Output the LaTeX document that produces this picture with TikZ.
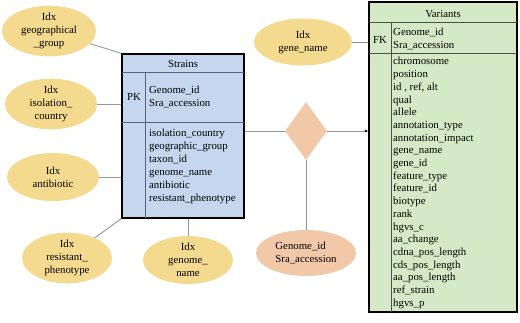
\documentclass[tikz,border=0pt]{standalone}
\usepackage{fontspec}
\setmainfont{Liberation Serif}
\usetikzlibrary{shapes.geometric,arrows.meta}
\definecolor{idxfill}{RGB}{243,218,142}
\definecolor{peach}{RGB}{242,201,168}
\definecolor{strblue}{RGB}{197,214,238}
\definecolor{vargreen}{RGB}{214,233,198}
\definecolor{conn}{RGB}{150,150,150}
\definecolor{sline}{RGB}{85,100,125}
\definecolor{vline}{RGB}{70,80,70}
\tikzset{
  idx/.style={ellipse, fill=idxfill, draw=none, inner sep=0pt, align=center, font=\fontsize{10.8}{13}\selectfont},
  pch/.style={ellipse, fill=peach, draw=none, inner sep=0pt, align=left, font=\fontsize{10.8}{13}\selectfont},
  conline/.style={draw=conn, line width=0.9pt},
  tbl/.style={rectangle, draw=black, line width=1.4pt, inner sep=0pt},
  txt/.style={inner sep=0pt, align=left, font=\fontsize{10.8}{13}\selectfont},
  vtxt/.style={inner sep=0pt, align=left, font=\fontsize{10.8}{12.7}\selectfont},
}
\begin{document}
\begin{tikzpicture}[x=1pt,y=-1pt]
\useasboundingbox[fill=white] (0,0) rectangle (520,322);
% tables
\node[tbl, fill=strblue, minimum width=122pt, minimum height=164pt] (str) at (183,136) {};
\node[tbl, fill=vargreen, minimum width=148pt, minimum height=310pt] (var) at (443,157) {};
% strains inner lines
\coordinate (s1) at (122,72);
\coordinate (s2) at (244,72);
\coordinate (s3) at (122,122);
\coordinate (s4) at (244,122);
\coordinate (s5) at (145,72);
\coordinate (s6) at (145,218);
\draw[sline, line width=0.8pt] (s1) -- (s2) (s3) -- (s4) (s5) -- (s6);
% variants inner lines
\coordinate (v1) at (369,22);
\coordinate (v2) at (517,22);
\coordinate (v3) at (369,53);
\coordinate (v4) at (517,53);
\coordinate (v5) at (391,22);
\coordinate (v6) at (391,312);
\draw[vline, line width=0.8pt] (v1) -- (v2) (v3) -- (v4) (v5) -- (v6);
% strains text
\node[txt] (stitle) at (183,64) {Strains};
\node[txt] (pk) at (134,97) {PK};
\node[txt, anchor=west] (spk) at (149,97) {Genome\_id\\Sra\_accession};
\node[txt, anchor=west] (sfields) at (149,166) {isolation\_country\\geographic\_group\\taxon\_id\\genome\_name\\antibiotic\\resistant\_phenotype};
% variants text
\node[txt] (vtitle) at (443,14) {Variants};
\node[txt] (fk) at (380,40) {FK};
\node[txt, anchor=west] (vfk) at (393,39) {Genome\_id\\Sra\_accession};
\node[vtxt, anchor=west] (vfields) at (393,183) {chromosome\\position\\id , ref, alt\\qual\\allele\\annotation\_type\\annotation\_impact\\gene\_name\\gene\_id\\feature\_type\\feature\_id\\biotype\\rank\\hgvs\_c\\aa\_change\\cdna\_pos\_length\\cds\_pos\_length\\aa\_pos\_length\\ref\_strain\\hgvs\_p};
% ellipses
\node[idx, minimum width=94pt, minimum height=50pt] (gg) at (49,31) {Idx\\geographical\\\_group};
\node[idx, minimum width=92pt, minimum height=46pt] (ic) at (51,104) {Idx\\isolation\_\\country};
\node[idx, minimum width=92pt, minimum height=48pt] (ab) at (53,177) {Idx\\antibiotic};
\node[idx, minimum width=90pt, minimum height=50pt] (rp) at (67,258) {Idx\\resistant\_\\phenotype};
\node[idx, minimum width=90pt, minimum height=48pt] (gn) at (188,260) {Idx\\genome\_\\name};
\node[idx, minimum width=98pt, minimum height=47pt] (gene) at (303,42) {Idx\\gene\_name};
\node[pch, minimum width=100pt, minimum height=46pt] (gid) at (306,253) {Genome\_id\\Sra\_accession};
% diamond
\node[diamond, fill=peach, draw=none, inner sep=0pt, minimum width=42pt, minimum height=58pt] (dia) at (306,131) {};
% connectors
\draw[conline] (gg) -- (str.north west);
\draw[conline] (ic.east) -- (ic.east -| str.west);
\draw[conline] (ab.east) -- (ab.east -| str.west);
\draw[conline] (rp) -- (str.south west);
\draw[conline] (gn.north) -- (gn.north |- str.south);
\draw[conline] (str.east |- dia.west) -- (dia.west);
\draw[conline, -{Latex[length=3.5pt,width=3pt,color=black]}] (dia.east) -- (dia.east -| var.west);
\draw[conline] (dia.south) -- (gid.north);
\draw[conline] (gene.east) -- (gene.east -| var.west);
\end{tikzpicture}
\end{document}
